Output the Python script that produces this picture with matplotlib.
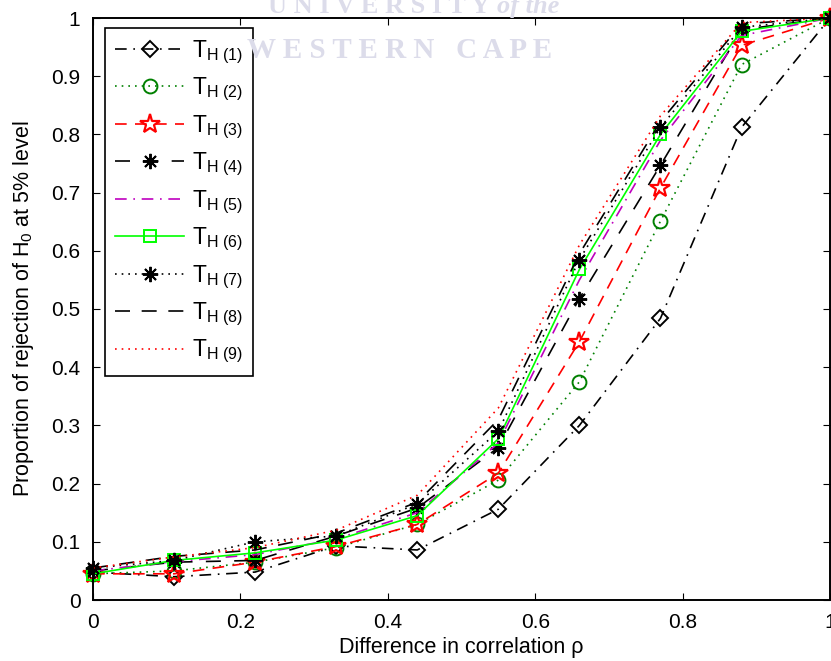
import numpy as np
import matplotlib
matplotlib.use('Agg')
import matplotlib.pyplot as plt

plt.rcParams['font.family'] = ['Liberation Sans', 'DejaVu Sans']
plt.rcParams['mathtext.fontset'] = 'custom'
plt.rcParams['mathtext.rm'] = 'Liberation Sans'
plt.rcParams['mathtext.it'] = 'Liberation Sans'
plt.rcParams['mathtext.default'] = 'regular'

# differences in correlation
rho = [0, 0.11, 0.22, 0.33, 0.44, 0.55, 0.66, 0.77, 0.88, 1.0]

# proportion of rejections for each statistic
t1 = [0.048, 0.040, 0.048, 0.093, 0.086, 0.156, 0.300, 0.484, 0.812, 1.0]
t2 = [0.045, 0.050, 0.065, 0.090, 0.130, 0.206, 0.375, 0.651, 0.920, 1.0]
t3 = [0.045, 0.045, 0.065, 0.092, 0.130, 0.218, 0.444, 0.708, 0.953, 1.0]
t4 = [0.050, 0.065, 0.068, 0.110, 0.158, 0.262, 0.518, 0.747, 0.980, 1.0]
t5 = [0.050, 0.066, 0.078, 0.105, 0.150, 0.270, 0.550, 0.790, 0.970, 1.0]
t6 = [0.045, 0.068, 0.081, 0.103, 0.145, 0.277, 0.568, 0.800, 0.977, 1.0]
t7 = [0.055, 0.068, 0.100, 0.110, 0.165, 0.290, 0.585, 0.812, 0.984, 1.0]
t8 = [0.055, 0.075, 0.086, 0.115, 0.168, 0.310, 0.595, 0.822, 0.990, 1.0]
t9 = [0.055, 0.074, 0.090, 0.120, 0.180, 0.330, 0.610, 0.832, 0.992, 1.0]

labels = [r'T$_{H\ (%d)}$' % i for i in range(1, 10)]

DASH = (7, 5)
DASHDOT = (7, 4, 1, 4)
DOT = (1, 3)
ast = (8, 2, 0)

styles = [
    dict(color='black', dashes=DASHDOT, marker='D', ms=8, mfc='none', mew=1.4),
    dict(color='#008000', dashes=DOT, marker='o', ms=10, mfc='none', mew=1.4),
    dict(color='red', dashes=DASH, marker='*', ms=15, mfc='none', mew=1.6),
    dict(color='black', dashes=(9, 8), marker=ast, ms=11, mew=1.4),
    dict(color='#bf00bf', dashes=DASHDOT, marker=None),
    dict(color='#00ff00', linestyle='-', marker='s', ms=9, mfc='none', mew=1.4),
    dict(color='black', dashes=DOT, marker=ast, ms=11, mew=1.4),
    dict(color='black', dashes=(9, 7), marker=None),
    dict(color='red', dashes=DOT, marker=None),
]

fig = plt.figure(figsize=(8.31, 6.61), dpi=100)
ax = fig.add_axes([93/831, 61/661, 737/831, 582/661])
ax.patch.set_alpha(0)

# faint watermark from the scanned thesis page
wm = dict(va='center', family='Liberation Serif', weight='bold',
          color='#dcdcea', zorder=0)
fig.text(0.456, 0.990, 'U N I V E R S I T Y', ha='center', fontsize=19, **wm)
fig.text(0.598, 0.990, 'of the', ha='left', fontsize=19, style='italic', **wm)
fig.text(0.481, 0.924, 'W E S T E R N   C A P E', ha='center', fontsize=21, **wm)

for y, lab, st in zip([t1, t2, t3, t4, t5, t6, t7, t8, t9], labels, styles):
    ax.plot(rho, y, label=lab, lw=1.2, clip_on=False, **st)

ax.set_xlim(0, 1)
ax.set_ylim(0, 1)
ax.set_xticks(np.arange(0, 1.01, 0.2))
ax.set_xticklabels(['0', '0.2', '0.4', '0.6', '0.8', '1'])
ax.set_yticks(np.arange(0, 1.01, 0.1))
ax.set_yticklabels(['0'] + ['%.1f' % v for v in np.arange(0.1, 0.95, 0.1)] + ['1'])
ax.tick_params(direction='in', top=True, right=True, length=5, labelsize=15)
ax.tick_params(axis='x', pad=9)
ax.tick_params(axis='y', pad=9)
for s in ax.spines.values():
    s.set_linewidth(1.4)

ax.set_xlabel('Difference in correlation ρ', fontsize=15.5, labelpad=4)
ax.set_ylabel('Proportion of rejection of H$_0$ at 5% level', fontsize=15.5, labelpad=11)

leg = ax.legend(loc='upper left', bbox_to_anchor=(0.0163, 0.983), borderaxespad=0,
                fontsize=16.5, handlelength=3.0, labelspacing=0.44, handletextpad=0.35,
                borderpad=0.45, fancybox=False, framealpha=1, edgecolor='black')
leg.get_frame().set_linewidth(1.2)

fig.savefig('out.png', dpi=100)
